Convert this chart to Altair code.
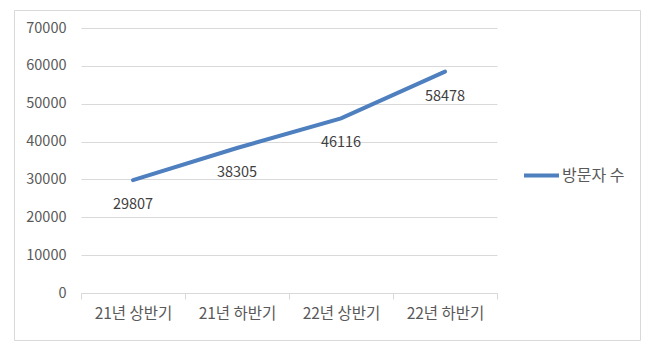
import altair as alt
import pandas as pd

categories = ["21년 상반기", "21년 하반기", "22년 상반기", "22년 하반기"]
visitors = [29807, 38305, 46116, 58478]
series_name = "방문자 수"

df = pd.DataFrame({"period": categories, "value": visitors, "series": [series_name] * len(categories)})

FONT = "Noto Sans CJK KR"
LINE_COLOR = "#4E7FBE"

x_enc = alt.X("period:N", sort=categories, title=None,
              scale=alt.Scale(paddingInner=0, paddingOuter=0),
              axis=alt.Axis(labelAngle=0, tickBand="extent", tickSize=6, tickColor="#d9d9d9",
                            domainColor="#d9d9d9", labelColor="#595959", labelFontSize=15.5,
                            labelFont=FONT, labelPadding=7, grid=False))
y_enc = alt.Y("value:Q", title=None,
              scale=alt.Scale(domain=[0, 70000], nice=False),
              axis=alt.Axis(values=list(range(0, 70001, 10000)), domain=False, ticks=False,
                            gridColor="#d9d9d9", labelColor="#595959", labelFontSize=14.5,
                            labelFont=FONT, labelPadding=15, format="d", labelOverlap=False))

base = alt.Chart(df)

line = base.mark_line(strokeWidth=4, strokeCap="round").encode(
    x=x_enc, y=y_enc,
    color=alt.Color("series:N", scale=alt.Scale(range=[LINE_COLOR]), title=None,
                    legend=alt.Legend(orient="none", legendX=441, legendY=128,
                                      symbolType="stroke", symbolSize=1225, symbolStrokeWidth=4,
                                      labelFontSize=16, labelFont=FONT, labelColor="#595959",
                                      labelOffset=1)),
)

labels = base.mark_text(dy=25, fontSize=14.5, font=FONT, color="#404040").encode(
    x=x_enc, y=y_enc, text=alt.Text("value:Q", format="d")
)

border = alt.Chart(pd.DataFrame({"a": [0]})).mark_rect(
    fill=None, stroke="#d9d9d9", strokeWidth=1, clip=False
).encode(x=alt.value(-66.5), x2=alt.value(559.5), y=alt.value(-17.5), y2=alt.value(312.5))

chart = alt.layer(line, labels, border).properties(
    width=416, height=265,
    autosize=alt.AutoSizeParams(type="none"),
    padding={"left": 81, "top": 28, "right": 158, "bottom": 59},
    background="white",
).configure_view(stroke=None)

chart.save("out.html", embed_options={"renderer": "svg", "actions": False})
